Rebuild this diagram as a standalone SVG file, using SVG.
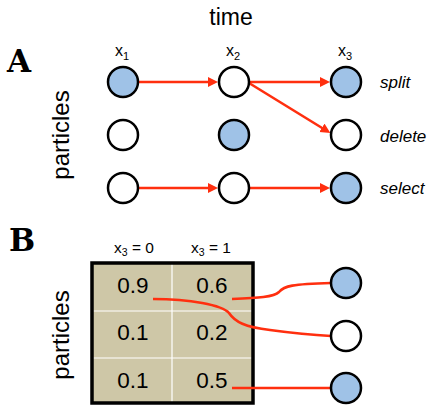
<svg xmlns="http://www.w3.org/2000/svg" width="429" height="406" viewBox="0 0 429 406">
<defs>
<style>
.n{stroke:#000;stroke-width:2.5}
.b{fill:#9fc2e7}
.w{fill:#fff}
.e{stroke:#ff2f0f;stroke-width:2.6;fill:none}
.t{font-family:"Liberation Sans",Arial,sans-serif;fill:#000}
.ser{font-family:"DejaVu Serif","Liberation Serif",serif;font-weight:bold;font-size:31px}
.lab{font-size:17px;font-style:italic}
.cell{font-size:22.5px;text-anchor:middle}
.hd{font-size:15.5px;text-anchor:middle}
</style>
<marker id="ah" markerUnits="userSpaceOnUse" markerWidth="11" markerHeight="11" refX="6" refY="5" orient="auto" viewBox="0 0 11 11">
<path d="M0,0 L10,5 L0,10 z" fill="#ff2f0f"/>
</marker>
</defs>
<rect width="429" height="406" fill="#fff"/>

<text class="t" x="231" y="25" font-size="23" text-anchor="middle">time</text>
<text class="t ser" x="7" y="72">A</text>
<text class="t ser" x="9" y="251">B</text>
<text class="t" font-size="24" text-anchor="middle" transform="translate(69,135) rotate(-90)">particles</text>
<text class="t" font-size="24" text-anchor="middle" transform="translate(69,335) rotate(-90)">particles</text>

<g class="t" font-size="16" text-anchor="middle">
<text x="122" y="56">x<tspan font-size="11" dy="4">1</tspan></text>
<text x="233" y="56">x<tspan font-size="11" dy="4">2</tspan></text>
<text x="345" y="56">x<tspan font-size="11" dy="4">3</tspan></text>
</g>
<g class="t lab">
<text x="380" y="88">split</text>
<text x="380" y="142">delete</text>
<text x="380" y="194">select</text>
</g>

<g id="table">
<rect x="92" y="263" width="161" height="140" fill="#cec7a7"/>
<path d="M172,263 V403 M92,311 H253 M92,358 H253" stroke="#fff" stroke-width="1.2"/>
<rect x="92" y="263" width="161" height="140" fill="none" stroke="#000" stroke-width="3.5"/>
<g class="t cell">
<text x="133" y="293">0.9</text>
<text x="212" y="293">0.6</text>
<text x="133" y="340">0.1</text>
<text x="212" y="340">0.2</text>
<text x="133" y="388">0.1</text>
<text x="212" y="388">0.5</text>
</g>
<g class="t hd">
<text x="134" y="253">x<tspan font-size="10.5" dy="3">3</tspan><tspan dy="-3"> = 0</tspan></text>
<text x="211" y="253">x<tspan font-size="10.5" dy="3">3</tspan><tspan dy="-3"> = 1</tspan></text>
</g>
</g>

<g id="connectors">
<line class="e" x1="138" y1="82" x2="214" y2="82" marker-end="url(#ah)"/>
<line class="e" x1="250" y1="82" x2="326" y2="82" marker-end="url(#ah)"/>
<line class="e" x1="249" y1="83" x2="327" y2="131" marker-end="url(#ah)"/>
<line class="e" x1="138" y1="188" x2="214" y2="188" marker-end="url(#ah)"/>
<line class="e" x1="250" y1="188" x2="326" y2="188" marker-end="url(#ah)"/>
<path class="e" d="M232,299 C258,298 274,297 279,292 C284,286 292,284 331,283"/>
<path class="e" d="M153,299 C190,299 222,305 229,313 C235,322 245,327 270,330 C292,333 312,335 331,336"/>
<path class="e" d="M232,388 L331,388"/>
</g>

<g id="a11"><circle class="n b" cx="123" cy="82" r="15"/></g>
<g id="a21"><circle class="n w" cx="123" cy="135" r="15"/></g>
<g id="a31"><circle class="n w" cx="123" cy="188" r="15"/></g>
<g id="a12"><circle class="n w" cx="234" cy="82" r="15"/></g>
<g id="a22"><circle class="n b" cx="234" cy="135" r="15"/></g>
<g id="a32"><circle class="n w" cx="234" cy="188" r="15"/></g>
<g id="a13"><circle class="n b" cx="346" cy="82" r="15"/></g>
<g id="a23"><circle class="n w" cx="346" cy="135" r="15"/></g>
<g id="a33"><circle class="n b" cx="346" cy="188" r="15"/></g>
<g id="b1"><circle class="n b" cx="346" cy="283" r="15"/></g>
<g id="b2"><circle class="n w" cx="346" cy="336" r="15"/></g>
<g id="b3"><circle class="n b" cx="346" cy="388" r="15"/></g>
</svg>
